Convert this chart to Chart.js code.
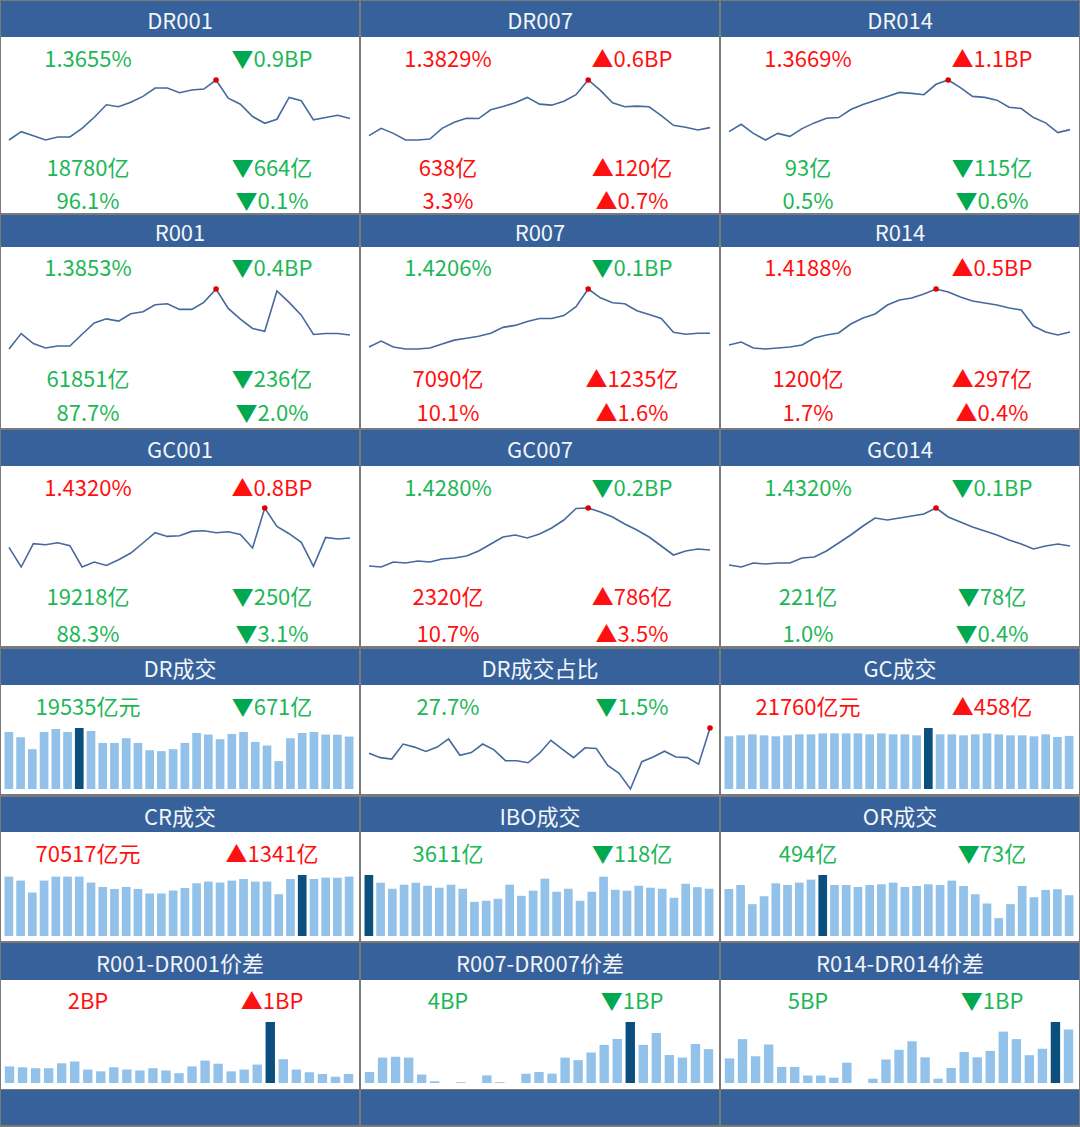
<!DOCTYPE html>
<html>
<head>
<meta charset="utf-8">
<title>资金面看板</title>
<script src="https://cdn.jsdelivr.net/npm/chart.js@4.4.1/dist/chart.umd.min.js"></script>
<style>
  html, body { margin: 0; padding: 0; background: #fff; }
  #board { position: relative; width: 1080px; height: 1127px; background: #7a7a7a; overflow: hidden;
    font-family: "Noto Sans CJK SC", "Noto Sans", sans-serif; }
  .hd { position: absolute; background: #36619a; color: #f2f5f9; font-size: 22px;
    display: flex; align-items: center; justify-content: center; }
  .bd { position: absolute; background: #fff; }
  .tx { position: absolute; font-size: 22px; line-height: 1; white-space: nowrap; transform: translate(-50%, -50%); }
  canvas { position: absolute; }
</style>
</head>
<body>
<div id="board"></div>
<script>
// ---- sparkline series (relative levels) ----
const dr001 = [10.7, 19, 15, 10.7, 13.7, 13.7, 22.3, 33.3, 45.7, 43.7, 48.3, 54, 62.3, 62.3, 57.7, 60.3, 61.3, 70.3, 52.3, 46.3, 34, 27.3, 31.3, 53, 49.7, 30.7, 33, 35.3, 32];
const dr007 = [15, 22.3, 17.3, 10.7, 10.7, 11.7, 22.3, 28.3, 32.3, 32, 40.7, 44, 47.7, 53, 46.3, 45.3, 49.3, 55.7, 70.3, 60, 47.7, 43.7, 44.3, 43.7, 35, 25.3, 23.3, 20.7, 23];
const dr014 = [19, 26.3, 17.3, 10.7, 17.3, 14.3, 22, 27.7, 32.3, 33, 41, 46, 50, 54, 58, 57, 55.7, 66, 70.3, 62.7, 54, 53, 50.3, 43.3, 42, 33, 27.7, 18, 21];
const r001 = [16.3, 31.7, 21.7, 17.3, 19.3, 19.3, 31, 42.3, 46.3, 44, 51.3, 53.3, 60.3, 61.3, 55.7, 55.7, 62.7, 76, 56.7, 46, 36.7, 34, 74, 62.7, 50, 30.7, 31.7, 31.7, 30.3];
const r007 = [5, 11, 5, 3, 3, 4, 8, 12, 14, 16, 19, 25, 27, 31, 34, 34, 37, 46, 64, 55, 50, 49, 42, 38, 34, 20, 18, 19, 19];
const r014 = [7, 10, 4, 3, 4, 5, 7, 14, 17, 19, 28, 34, 38, 47, 52, 54, 58, 63, 60, 55, 51, 49, 47, 44, 42, 26, 20, 17, 20];
const gc001 = [32.3, 12.7, 36, 35, 37, 34, 12.7, 17.7, 14.3, 20, 26.7, 36.7, 47, 43.3, 44, 48.3, 49, 47, 48, 45.3, 31.7, 71.7, 53.3, 46, 37.3, 13.3, 42.3, 40.7, 41.7];
const gc007 = [4, 3, 8, 7, 9, 8, 11, 12, 14, 19, 26, 33, 35, 32, 36, 42, 50, 61.5, 62, 58, 53, 46, 40, 33, 24, 15, 19, 21, 20];
const gc014 = [5, 3, 7, 6, 7, 7, 12, 13, 19, 27, 35, 44, 52, 50, 52, 54, 56, 62, 53, 48, 43, 39, 35, 30, 26, 21, 24, 26, 24];
const drShare = [45, 40.7, 39.3, 54, 51, 46.7, 51, 59, 43, 45.7, 54, 48.3, 37.7, 37.7, 35.7, 45, 57.7, 49, 40.7, 50.3, 49.7, 33, 25.3, 10, 36.7, 41.3, 47, 41.3, 40.7, 34.3, 69.7];

// ---- volumes (亿元) ----
const drVol = [21240, 19280, 14830, 21240, 22350, 21240, 22720, 21610, 17160, 17160, 18910, 17160, 14460, 14090, 14830, 17160, 20870, 20280, 18540, 20500, 21240, 17530, 16200, 10380, 18910, 20870, 21240, 20280, 20206, 19535];
const gcVol = [21600, 22000, 22400, 22000, 21600, 22000, 22400, 22400, 22800, 22800, 22800, 22800, 22400, 22800, 22400, 22400, 22000, 25000, 22400, 22400, 22000, 22400, 22800, 22400, 22000, 22000, 21600, 22400, 21302, 21760];
const crVol = [70500, 65780, 51610, 65780, 70500, 70500, 70500, 63420, 58220, 55860, 58220, 55860, 50430, 50430, 53970, 57040, 62590, 64600, 63420, 65780, 67670, 64600, 64600, 49600, 67670, 72400, 67670, 69330, 69176, 70517];
const iboVol = [4660, 4070, 3610, 3920, 4070, 3840, 3690, 3920, 3610, 2610, 2690, 2840, 3920, 3070, 3460, 4380, 3380, 3610, 2690, 3380, 4530, 3530, 3460, 3840, 3690, 3610, 2920, 3990, 3729, 3611];
const orVol = [570, 618, 386, 482, 639, 618, 647, 683, 739, 618, 618, 594, 618, 627, 647, 594, 606, 627, 618, 671, 606, 506, 394, 217, 386, 606, 470, 558, 567, 494];

// ---- spreads (BP) ----
const spread001 = [3.7, 3.5, 3.3, 3.3, 4.4, 4.8, 3.0, 2.6, 3.5, 3.0, 2.8, 3.3, 2.8, 2.2, 3.7, 5.0, 4.3, 2.6, 3.0, 4.1, 13.6, 5.3, 3.0, 2.4, 2.0, 1.4, 2.0];
const spread007 = [1.3, 3.0, 3.1, 3.0, 1.0, 0.2, 0, 0.1, 0, 0.9, 0.1, 0, 1.1, 1.3, 1.1, 3.0, 2.7, 3.6, 4.5, 5.2, 7.2, 4.5, 5.9, 3.3, 3.0, 4.6, 4.0];
const spread014 = [2.3, 4.1, 2.5, 3.6, 1.5, 1.5, 0.7, 0.7, 0.5, 1.9, 0, 0.4, 2.2, 3.1, 3.9, 2.4, 0.4, 1.4, 2.9, 2.4, 3.0, 4.8, 4.1, 2.6, 3.2, 5.7, 5.0];

// ---- headline figures: [level, change] per text line ----
const txtDR001 = [['1.3655%', '▼0.9BP'], ['18780亿', '▼664亿'], ['96.1%', '▼0.1%']];
const txtDR007 = [['1.3829%', '▲0.6BP'], ['638亿', '▲120亿'], ['3.3%', '▲0.7%']];
const txtDR014 = [['1.3669%', '▲1.1BP'], ['93亿', '▼115亿'], ['0.5%', '▼0.6%']];
const txtR001 = [['1.3853%', '▼0.4BP'], ['61851亿', '▼236亿'], ['87.7%', '▼2.0%']];
const txtR007 = [['1.4206%', '▼0.1BP'], ['7090亿', '▲1235亿'], ['10.1%', '▲1.6%']];
const txtR014 = [['1.4188%', '▲0.5BP'], ['1200亿', '▲297亿'], ['1.7%', '▲0.4%']];
const txtGC001 = [['1.4320%', '▲0.8BP'], ['19218亿', '▼250亿'], ['88.3%', '▼3.1%']];
const txtGC007 = [['1.4280%', '▼0.2BP'], ['2320亿', '▲786亿'], ['10.7%', '▲3.5%']];
const txtGC014 = [['1.4320%', '▼0.1BP'], ['221亿', '▼78亿'], ['1.0%', '▼0.4%']];
const txtDRVol = [['19535亿元', '▼671亿']];
const txtDRShare = [['27.7%', '▼1.5%']];
const txtGCVol = [['21760亿元', '▲458亿']];
const txtCRVol = [['70517亿元', '▲1341亿']];
const txtIBOVol = [['3611亿', '▼118亿']];
const txtORVol = [['494亿', '▼73亿']];
const txt001 = [['2BP', '▲1BP']];
const txt007 = [['4BP', '▼1BP']];
const txt014 = [['5BP', '▼1BP']];

const RED = '#ff1010', GREEN = '#1db757', GREEN_TRI = '#00a84f';
const LINE = '#45699e', HI_DOT = '#e00000', BAR = '#92c2ea', BAR_HI = '#0b4f7e';

// row layout: header top/bottom, body bottom, text line centres, plot area top/bottom
const rows = [
  { ht: 1, hb: 37, bb: 213, ty: [57, 166, 199], at: 79.7, ab: 139.3 },
  { ht: 215, hb: 247, bb: 428, ty: [266, 377, 411], at: 289, ab: 348.7 },
  { ht: 430, hb: 466, bb: 646, ty: [485.5, 595, 632], at: 508.3, ab: 567.3 },
  { ht: 649, hb: 685, bb: 794, ty: [705], at: 728.3, ab: 789.7 },
  { ht: 797, hb: 832, bb: 941, ty: [852], at: 875.3, ab: 936.7 },
  { ht: 943, hb: 980, bb: 1089, ty: [999], at: 1022.3, ab: 1083.7 }
];
const colX = [0, 360, 720];

const panels = [
  ['DR001', 0, 0, 'line', dr001, txtDR001], ['DR007', 0, 1, 'line', dr007, txtDR007], ['DR014', 0, 2, 'line', dr014, txtDR014],
  ['R001', 1, 0, 'line', r001, txtR001], ['R007', 1, 1, 'line', r007, txtR007], ['R014', 1, 2, 'line', r014, txtR014],
  ['GC001', 2, 0, 'line', gc001, txtGC001], ['GC007', 2, 1, 'line', gc007, txtGC007], ['GC014', 2, 2, 'line', gc014, txtGC014],
  ['DR成交', 3, 0, 'bar', drVol, txtDRVol], ['DR成交占比', 3, 1, 'line', drShare, txtDRShare], ['GC成交', 3, 2, 'bar', gcVol, txtGCVol],
  ['CR成交', 4, 0, 'bar', crVol, txtCRVol], ['IBO成交', 4, 1, 'bar', iboVol, txtIBOVol], ['OR成交', 4, 2, 'bar', orVol, txtORVol],
  ['R001-DR001价差', 5, 0, 'bar', spread001, txt001], ['R007-DR007价差', 5, 1, 'bar', spread007, txt007], ['R014-DR014价差', 5, 2, 'bar', spread014, txt014]
];

const board = document.getElementById('board');

function box(cls, x, y, w, h) {
  const d = document.createElement('div');
  d.className = cls;
  Object.assign(d.style, { left: x + 'px', top: y + 'px', width: w + 'px', height: h + 'px' });
  board.appendChild(d);
  return d;
}

function argMax(a) {
  let m = 0;
  a.forEach((v, i) => { if (v > a[m]) m = i; });
  return m;
}

function addText(str, cx, cy, up) {
  const d = document.createElement('div');
  d.className = 'tx';
  d.style.left = cx + 'px';
  d.style.top = cy + 'px';
  d.style.color = up ? RED : GREEN;
  if (str[0] === '▲' || str[0] === '▼') {
    const tri = document.createElement('span');
    tri.textContent = str[0];
    tri.style.color = up ? RED : GREEN_TRI;
    const rest = document.createElement('span');
    rest.textContent = str.slice(1);
    d.appendChild(tri); d.appendChild(rest);
  } else {
    d.textContent = str;
  }
  board.appendChild(d);
  return d;
}

function sparkline(kind, data, x0, x1, y0, y1, barPct) {
  const pad = 5;
  const cv = document.createElement('canvas');
  const w = Math.round(x1 - x0 + 2 * pad), h = Math.round(y1 - y0 + 2 * pad);
  cv.width = w; cv.height = h;
  Object.assign(cv.style, { left: (x0 - pad) + 'px', top: (y0 - pad) + 'px', width: w + 'px', height: h + 'px' });
  board.appendChild(cv);
  const hi = argMax(data);
  const labels = data.map((v, i) => i + 1);
  const isBar = kind === 'bar';
  const ds = isBar ? {
    data: data,
    backgroundColor: data.map((v, i) => i === hi ? BAR_HI : BAR),
    borderWidth: 0,
    barPercentage: barPct,
    categoryPercentage: 1
  } : {
    data: data,
    borderColor: LINE,
    borderWidth: 1.6,
    tension: 0,
    pointRadius: data.map((v, i) => i === hi ? 2.8 : 0),
    pointBackgroundColor: HI_DOT,
    pointBorderWidth: 0,
    clip: false
  };
  new Chart(cv, {
    type: kind,
    data: { labels: labels, datasets: [ds] },
    options: {
      responsive: false,
      animation: false,
      devicePixelRatio: 1,
      layout: { padding: pad },
      plugins: { legend: { display: false }, tooltip: { enabled: false } },
      scales: {
        x: { display: false, offset: isBar },
        y: { display: false, min: isBar ? 0 : Math.min(...data), max: Math.max(...data) }
      }
    }
  });
}

panels.forEach(([title, r, c, kind, data, texts]) => {
  const R = rows[r];
  const x = colX[c] + 1, w = 358;
  const hd = box('hd', x, R.ht, w, R.hb - R.ht);
  hd.textContent = title;
  box('bd', x, R.hb, w, R.bb - R.hb);
  texts.forEach((pair, k) => {
    const up = pair[1][0] === '▲';
    addText(pair[0], colX[c] + 88, R.ty[k], up);
    addText(pair[1], colX[c] + 272, R.ty[k], up);
  });
  if (kind === 'line') {
    sparkline('line', data, colX[c] + 9.3, colX[c] + 350, R.at, R.ab);
  } else if (data.length === 27) {
    sparkline('bar', data, colX[c] + 3.2, colX[c] + 355.5, R.at, R.ab, 0.72);
  } else {
    sparkline('bar', data, colX[c] + 3.4, colX[c] + 355.2, R.at, R.ab, 0.74);
  }
});

// blue footer strip under the last row
[0, 1, 2].forEach(c => box('hd', colX[c] + 1, 1090, 358, 35));
</script>
</body>
</html>
